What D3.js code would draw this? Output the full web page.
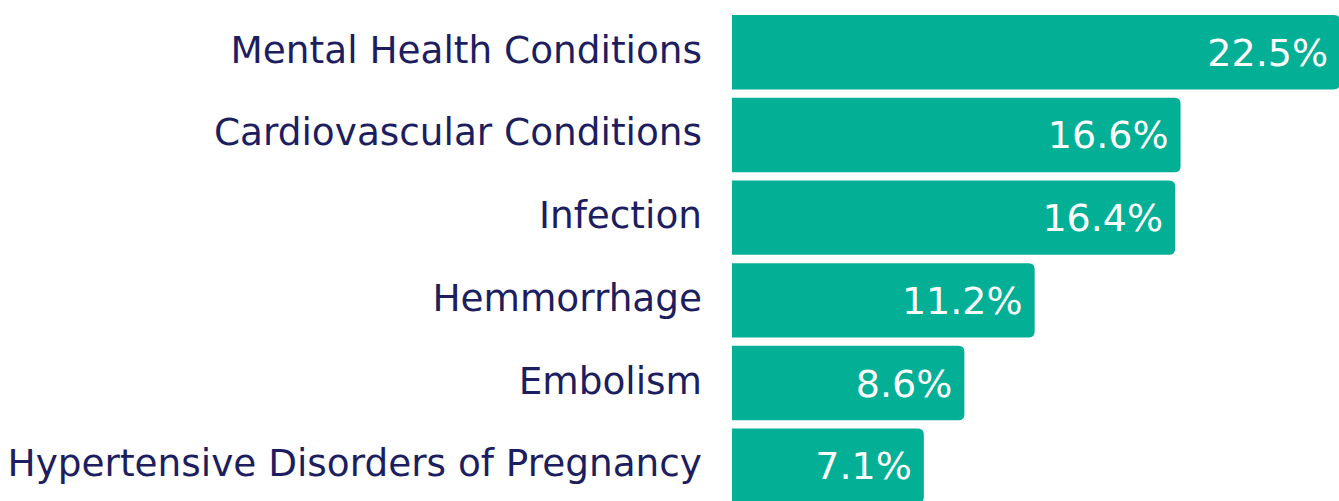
<!DOCTYPE html>
<html>
<head>
<meta charset="utf-8">
<script src="https://cdn.jsdelivr.net/npm/d3@7"></script>
<style>
  html, body { margin: 0; padding: 0; background: #fff; overflow: hidden; }
</style>
</head>
<body>
<div id="chart"></div>
<script>
// datos
const causes = [
  "Mental Health Conditions",
  "Cardiovascular Conditions",
  "Infection",
  "Hemmorrhage",
  "Embolism",
  "Hypertensive Disorders of Pregnancy"
];
const shares = [22.5, 16.6, 16.4, 11.2, 8.6, 7.1];

const width = 1339;
const height = 501;
const barColor = "#03b096";
const labelColor = "#1c1e60";

const svg = d3.select("#chart")
  .append("svg")
  .attr("width", width)
  .attr("height", height)
  .style("font-family", "'DejaVu Sans', Verdana, sans-serif");

const x = d3.scaleLinear().domain([0, 22.5]).range([732, 1340]);
const y = d3.scaleBand().domain(causes).range([15, 503]).paddingInner(0.1);

const r = 6;
// barra con esquinas redondeadas solo a la derecha
function barPath(x0, x1, y0, h) {
  return `M${x0},${y0}H${x1 - r}Q${x1},${y0} ${x1},${y0 + r}V${y0 + h - r}Q${x1},${y0 + h} ${x1 - r},${y0 + h}H${x0}Z`;
}

const rows = svg.selectAll("g.row")
  .data(causes.map((c, i) => ({ cause: c, value: shares[i] })))
  .join("g")
  .attr("class", "row");

rows.append("path")
  .attr("d", d => barPath(x(0), x(d.value), y(d.cause), y.bandwidth()))
  .attr("fill", barColor);

rows.append("text")
  .attr("x", x(0) - 30)
  .attr("y", d => y(d.cause) + y.bandwidth() / 2 + 10.5)
  .attr("text-anchor", "end")
  .attr("fill", labelColor)
  .style("font-size", "37.4px")
  .text(d => d.cause);

rows.append("text")
  .attr("x", d => x(d.value) - 12)
  .attr("y", d => y(d.cause) + y.bandwidth() / 2 + 13.5)
  .attr("text-anchor", "end")
  .attr("fill", "#fff")
  .style("font-size", "38px")
  .text(d => d.value.toFixed(1) + "%");
</script>
</body>
</html>
